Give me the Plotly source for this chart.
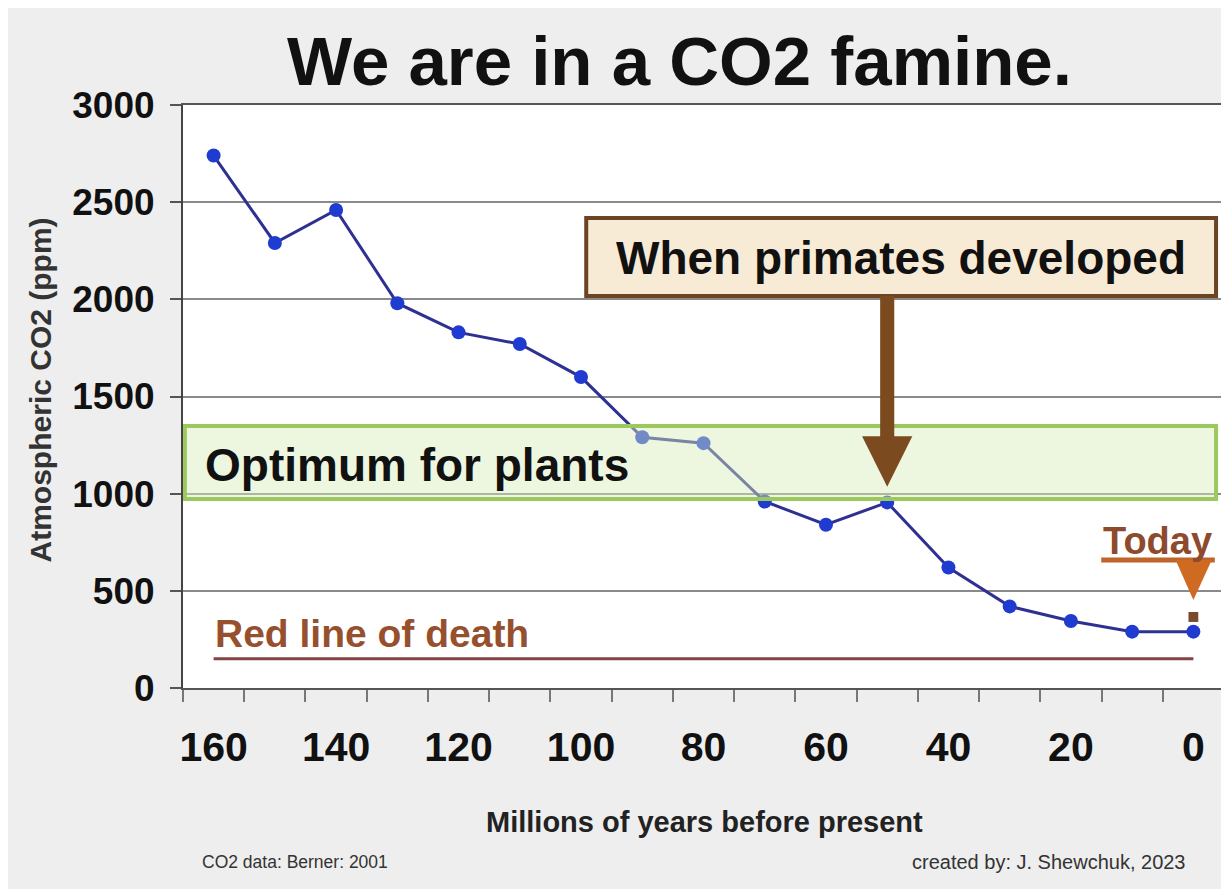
import plotly.graph_objects as go

# ---- data ----
years_ago = [160, 150, 140, 130, 120, 110, 100, 90, 80, 70, 60, 50, 40, 30, 20, 10, 0]
co2_ppm = [2740, 2290, 2460, 1980, 1830, 1770, 1600, 1290, 1260, 960, 840, 955, 620, 420, 345, 290, 290]
x_tick_vals = [160, 140, 120, 100, 80, 60, 40, 20, 0]
y_tick_vals = [0, 500, 1000, 1500, 2000, 2500, 3000]
death_line_ppm = 150
optimum_low, optimum_high = 972, 1348
primates_age = 50
today_age = 0

FONT = "Arial, Liberation Sans, sans-serif"

fig = go.Figure()
fig.add_trace(go.Scatter(
    x=years_ago, y=co2_ppm, mode="lines+markers",
    line=dict(color="#2E3192", width=3),
    marker=dict(color="#1F3BD0", size=14),
    hoverinfo="x+y", showlegend=False,
))

shapes = []
# red line of death
shapes.append(dict(type="line", xref="x", yref="y", x0=years_ago[0], x1=years_ago[-1],
                   y0=death_line_ppm, y1=death_line_ppm,
                   line=dict(color="#864343", width=3), layer="above"))
# optimum box
shapes.append(dict(type="rect", xref="x", yref="y", x0=164.7, x1=-3.7,
                   y0=optimum_low, y1=optimum_high,
                   fillcolor="rgba(214,236,184,0.45)",
                   line=dict(color="#9BC95E", width=4), layer="above"))
# primates box
shapes.append(dict(type="rect", xref="x", yref="y", x0=99.15, x1=-3.7, y0=2017, y1=2418,
                   fillcolor="#F8EBD6", line=dict(color="#6B4423", width=4), layer="above"))
# primates arrow shaft + head
pi = years_ago.index(primates_age)
tip_y = co2_ppm[pi] + 80
shapes.append(dict(type="rect", xref="x", yref="y", x0=primates_age + 1.15, x1=primates_age - 1.15,
                   y0=1285, y1=2017, fillcolor="#7B4A1F", line=dict(width=0), layer="above"))
shapes.append(dict(type="path", xref="x", yref="y",
                   path=f"M {primates_age+4.1},1295 L {primates_age-4.1},1295 L {primates_age},{tip_y} Z",
                   fillcolor="#7B4A1F", line=dict(width=0), layer="above"))
# today underline + arrow
ti = years_ago.index(today_age)
shapes.append(dict(type="line", xref="x", yref="y", x0=15.05, x1=-3.5, y0=659, y1=659,
                   line=dict(color="#C0652A", width=5), layer="above"))
shapes.append(dict(type="path", xref="x", yref="y",
                   path=f"M {today_age+2.9},659 L {today_age-3.0},659 L {today_age},{co2_ppm[ti]+163} Z",
                   fillcolor="#CF6A23", line=dict(width=0), layer="above"))
shapes.append(dict(type="rect", xref="x", yref="y", x0=today_age + 0.8, x1=today_age - 0.8,
                   y0=co2_ppm[ti] + 50, y1=co2_ppm[ti] + 101,
                   fillcolor="#7A4A2A", line=dict(width=0), layer="above"))
# left frame line
shapes.append(dict(type="line", xref="paper", yref="paper", x0=-0.1707, x1=-0.1707, y0=-0.35, y1=1.2,
                   line=dict(color="#8a8a8a", width=2)))

def ann(text, x, y, size, color="#111111", xref="paper", yref="paper", xanchor="center", **kw):
    return dict(text=text, xref=xref, yref=yref, x=x, y=y, xanchor=xanchor, yanchor="middle",
                showarrow=False, font=dict(family=FONT, size=size, color=color), **kw)

annotations = [
    ann("<b>We are in a CO2 famine.</b>", 0.4765, 1.0738, 69),
    ann("<b>Atmospheric CO2 (ppm)</b>", -0.137, 0.511, 30, "#333333", textangle=-90),
    ann("<b>Millions of years before present</b>", 0.5014, -0.2298, 29, "#222222"),
    ann("CO2 data: Berner: 2001", 0.0163, -0.2985, 17.5, "#333333", xanchor="left"),
    ann("created by: J. Shewchuk, 2023", 0.9655, -0.2985, 20, "#333333", xanchor="right"),
    ann("<b>Optimum for plants</b>", 161.74, 1147, 46, xref="x", yref="y", xanchor="left"),
    ann("<b>When primates developed</b>", 47.7, 2213, 46, xref="x", yref="y"),
    ann("<b>Red line of death</b>", 160.1, 283, 39, "#96502E", xref="x", yref="y", xanchor="left"),
    ann("<b>Today</b>", 5.9, 756, 38, "#8E4A2C", xref="x", yref="y"),
]

fig.update_layout(
    width=1221, height=881,
    margin=dict(l=175, r=3, t=97, b=201),
    paper_bgcolor="#eeeeee", plot_bgcolor="#ffffff",
    shapes=shapes, annotations=annotations,
    showlegend=False,
)
fig.update_xaxes(
    range=[165, -5], tickvals=x_tick_vals, ticktext=[str(v) for v in x_tick_vals],
    ticks="", showgrid=False, zeroline=False,
    showline=True, linecolor="#555555", linewidth=2, mirror=True,
    tickfont=dict(family=FONT, size=41, color="#111111", weight="bold"),
    ticklabelstandoff=22,
    minor=dict(tickvals=[165 - 10 * i for i in range(18)], ticks="outside", ticklen=12,
               tickwidth=2, tickcolor="#777777", showgrid=False),
)
fig.update_yaxes(
    range=[0, 3000], tickvals=y_tick_vals,
    ticks="outside", ticklen=11, tickwidth=2, tickcolor="#555555",
    showgrid=True, gridcolor="#8a8a8a", gridwidth=2, zeroline=False,
    showline=True, linecolor="#444444", linewidth=2, mirror=True,
    tickfont=dict(family=FONT, size=37, color="#111111", weight="bold"),
    ticklabelstandoff=8,
)

fig.write_html("out.html")
